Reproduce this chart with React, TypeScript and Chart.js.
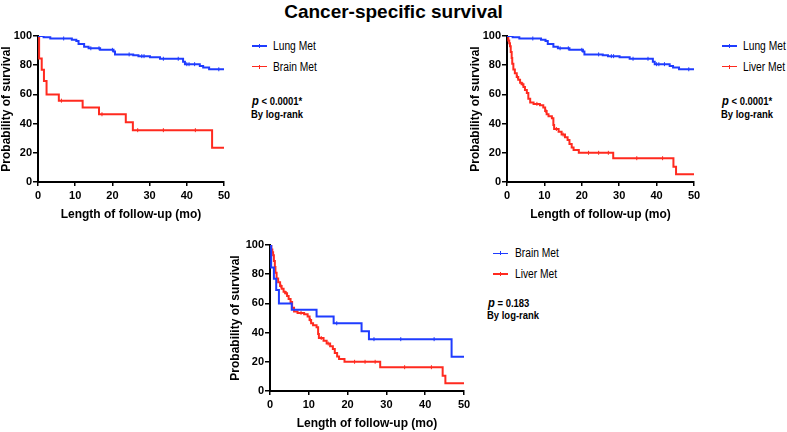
import React, { useEffect, useRef } from 'react';
import { Chart, registerables } from 'chart.js';

Chart.register(...registerables);

// ---------- data ----------
const xTickValues = [0, 10, 20, 30, 40, 50];
const yTickValues = [0, 20, 40, 60, 80, 100];

const lungTimes = [0, 1.5, 3.3, 9.1, 10.3, 10.9, 12.4, 13.6, 16.7, 20.3, 20.7, 25.6, 27.0, 30.1, 32.8, 39.0, 39.5, 43.5, 44.4, 46.0, 50];
const lungSurv = [100, 99.1, 98.3, 97.4, 96.5, 94.6, 92.6, 91.6, 90.5, 89.4, 87.4, 86.9, 86.2, 85.4, 84.4, 82.4, 80.7, 79.5, 78.4, 77.2, 77.2];
const lungCensored = [6.9, 14.2, 16.4, 20.0, 24.5, 27.9, 28.5, 33.7, 37.7, 40.0, 40.6, 42.1, 48.6];

const brainTimes = [0, 0.3, 1.0, 1.6, 2.3, 5.6, 12.0, 16.4, 23.6, 25.5, 46.8, 50];
const brainSurv = [100, 84.6, 76.9, 69.2, 60.0, 55.7, 51.0, 46.4, 41.0, 35.5, 23.5, 23.5];
const brainCensored = [6.3, 17.2, 26.8, 33.7, 42.3];

const liverTimes = [0, 0.35, 0.6, 0.8, 1.0, 1.25, 1.4, 1.7, 2.1, 2.6, 3.0, 3.5, 3.9, 4.4, 4.8, 5.3, 5.7, 6.2, 7.1, 8.8, 9.7, 10.2, 10.6, 11.1, 12.0, 12.4, 12.6, 13.8, 14.6, 15.5, 16.2, 16.7, 17.3, 17.8, 19.2, 28.4, 44.5, 45.2, 50];
const liverSurv = [100, 97, 95, 93, 89, 85, 81, 77, 74.5, 72, 70, 68, 67, 65, 63, 61, 57, 54.5, 53.5, 52.5, 51, 48.6, 46.4, 45, 43.6, 39, 36.3, 34.5, 32.5, 30.6, 28.8, 26, 23.7, 22, 20, 16.3, 10.5, 5.3, 5.3];
const liverCensored = [2.8, 4.2, 8.0, 10.4, 13.2, 15.0, 21.8, 24.5, 27.1, 34.7, 41.6];

const BLUE = '#1f3cff';
const RED = '#ff2a1f';
const FAMILY = '"Liberation Sans", Arial, Helvetica, sans-serif';

type Series = { label: string; times: number[]; surv: number[]; censored: number[]; color: string };

const lungSeries: Series = { label: 'Lung Met', times: lungTimes, surv: lungSurv, censored: lungCensored, color: BLUE };
const brainRed: Series = { label: 'Brain Met', times: brainTimes, surv: brainSurv, censored: brainCensored, color: RED };
const brainBlue: Series = { label: 'Brain Met', times: brainTimes, surv: brainSurv, censored: brainCensored, color: BLUE };
const liverSeries: Series = { label: 'Liver Met', times: liverTimes, surv: liverSurv, censored: liverCensored, color: RED };

function survivalAt(s: Series, t: number): number {
  let v = s.surv[0];
  for (let i = 0; i < s.times.length; i++) if (s.times[i] <= t) v = s.surv[i];
  return v;
}

type PanelProps = { left: number; top: number; width: number; height: number; yWidth: number; series: Series[] };

function KMPanel({ left, top, width, height, yWidth, series }: PanelProps) {
  const ref = useRef<HTMLCanvasElement | null>(null);
  useEffect(() => {
    if (!ref.current) return;
    const tickFont = { family: FAMILY, size: 11, weight: 'bold' as const };
    const datasets: any[] = [];
    series.forEach((s) => {
      datasets.push({
        label: s.label,
        data: s.times.map((t, i) => ({ x: t, y: s.surv[i] })),
        showLine: true,
        stepped: 'before',
        borderColor: s.color,
        backgroundColor: s.color,
        borderWidth: 2,
        pointRadius: 0,
        pointHoverRadius: 0,
        fill: false,
      });
    });
    series.forEach((s) => {
      datasets.push({
        label: s.label + ' (censored)',
        data: s.censored.map((t) => ({ x: t, y: survivalAt(s, t) })),
        showLine: false,
        pointStyle: 'line',
        rotation: 90,
        pointRadius: 2,
        pointHoverRadius: 2,
        borderColor: s.color,
        backgroundColor: s.color,
        borderWidth: 1,
      });
    });
    const chart = new Chart(ref.current, {
      type: 'scatter',
      data: { datasets },
      options: {
        responsive: false,
        animation: false,
        devicePixelRatio: 1,
        events: [],
        layout: { padding: { left: 0, top: 10, right: 12, bottom: 0 }, autoPadding: false } as any,
        plugins: { legend: { display: false }, tooltip: { enabled: false }, title: { display: false } },
        scales: {
          x: {
            type: 'linear',
            min: 0,
            max: 50,
            afterBuildTicks: (scale: any) => {
              scale.ticks = xTickValues.map((v) => ({ value: v }));
            },
            ticks: { color: '#000', font: tickFont, padding: 3.5, maxRotation: 0 },
            grid: { drawOnChartArea: false, drawTicks: true, tickLength: 4, color: '#000', lineWidth: 1.5 },
            border: { display: true, color: '#000', width: 2 },
            title: {
              display: true,
              text: 'Length of follow-up (mo)',
              color: '#000',
              font: { family: FAMILY, size: 12, weight: 'bold' },
              padding: { top: 0, bottom: 2 },
            },
            afterFit: (scale: any) => {
              scale.height = 42;
            },
          },
          y: {
            type: 'linear',
            min: 0,
            max: 100,
            afterBuildTicks: (scale: any) => {
              scale.ticks = yTickValues.map((v) => ({ value: v }));
            },
            ticks: { color: '#000', font: tickFont, padding: 1 },
            grid: { drawOnChartArea: false, drawTicks: true, tickLength: 5, color: '#000', lineWidth: 1.5 },
            border: { display: true, color: '#000', width: 2 },
            title: {
              display: true,
              text: 'Probability of survival',
              color: '#000',
              font: { family: FAMILY, size: 12, weight: 'bold' },
              padding: { top: 0, bottom: 0 },
            },
            afterFit: (scale: any) => {
              scale.width = yWidth;
            },
          },
        },
      } as any,
    });
    return () => chart.destroy();
  }, []);
  return (
    <canvas
      ref={ref}
      width={width}
      height={height}
      style={{ position: 'absolute', left, top, width, height }}
    />
  );
}

type TxtProps = {
  x: number;
  baseline: number;
  size: number;
  weight?: string | number;
  scaleX?: number;
  center?: boolean;
  children: React.ReactNode;
};

function Txt({ x, baseline, size, weight = 'normal', scaleX = 1, center = false, children }: TxtProps) {
  const top = baseline - 0.8465 * size;
  return (
    <div
      style={{
        position: 'absolute',
        left: x,
        top,
        fontSize: size,
        lineHeight: `${size}px`,
        fontFamily: FAMILY,
        fontWeight: weight as any,
        whiteSpace: 'nowrap',
        color: '#000',
        transform: center ? `translateX(-50%) scaleX(${scaleX})` : `scaleX(${scaleX})`,
        transformOrigin: center ? 'center top' : 'left top',
      }}
    >
      {children}
    </div>
  );
}

function LegendItem({ x, y, textX, color, label }: { x: number; y: number; textX: number; color: string; label: string }) {
  return (
    <>
      <div style={{ position: 'absolute', left: x, top: y - 0.75, width: 15, height: 1.5, background: color }} />
      <div style={{ position: 'absolute', left: x + 7, top: y - 2, width: 1, height: 4, background: color }} />
      <Txt x={textX} baseline={y + 4.6} size={12.5} scaleX={0.82}>
        {label}
      </Txt>
    </>
  );
}

function PText({ x, baseline, value }: { x: number; baseline: number; value: string }) {
  return (
    <>
      <Txt x={x} baseline={baseline} size={11} weight="bold" scaleX={0.86}>
        <span style={{ fontStyle: 'italic', fontSize: 13 }}>p</span> {value}
      </Txt>
      <Txt x={x - 1} baseline={baseline + 13.5} size={11} weight="bold" scaleX={0.86}>
        By log-rank
      </Txt>
    </>
  );
}

export default function App() {
  return (
    <div
      style={{
        position: 'absolute',
        left: 0,
        top: 0,
        width: 787,
        height: 432,
        background: '#fff',
        overflow: 'hidden',
      }}
    >
      <Txt x={393.5} baseline={18.3} size={19} weight="bold" center>
        Cancer-specific survival
      </Txt>

      <KMPanel left={-1} top={26} width={237} height={198} yWidth={39} series={[lungSeries, brainRed]} />
      <KMPanel left={468} top={26} width={238} height={198} yWidth={39} series={[lungSeries, liverSeries]} />
      <KMPanel left={228} top={235} width={248} height={198} yWidth={42} series={[brainBlue, liverSeries]} />

      <LegendItem x={252} y={46} textX={273} color={BLUE} label="Lung Met" />
      <LegendItem x={252} y={66.7} textX={273} color={RED} label="Brain Met" />
      <PText x={251.7} baseline={104.5} value="< 0.0001*" />

      <LegendItem x={722} y={46} textX={743} color={BLUE} label="Lung Met" />
      <LegendItem x={722} y={66.7} textX={743} color={RED} label="Liver Met" />
      <PText x={721.7} baseline={104.5} value="< 0.0001*" />

      <LegendItem x={493} y={253.3} textX={515} color={BLUE} label="Brain Met" />
      <LegendItem x={493} y={274} textX={515} color={RED} label="Liver Met" />
      <PText x={488.3} baseline={306} value="= 0.183" />
    </div>
  );
}
